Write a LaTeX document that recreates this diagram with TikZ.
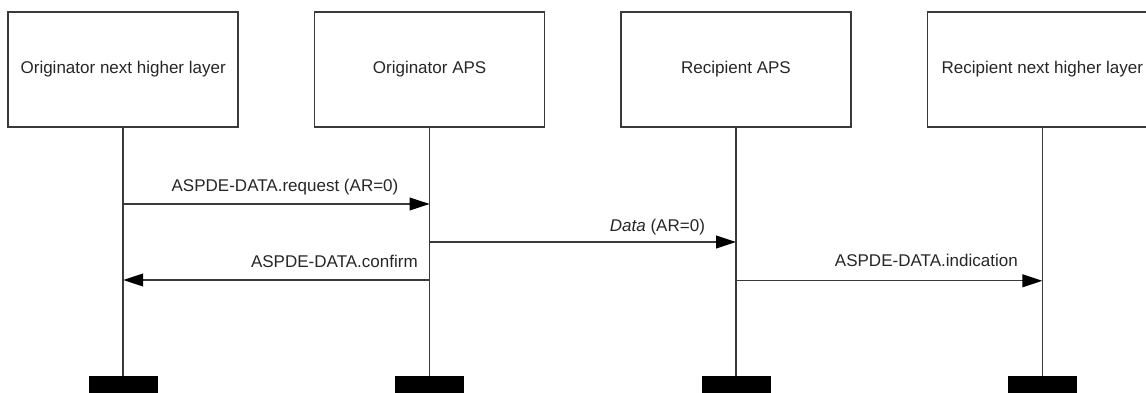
\documentclass[tikz,border=0pt]{standalone}
\usepackage{fontspec}
\setmainfont{Liberation Sans}
\usetikzlibrary{positioning,arrows.meta,calc}
\definecolor{linegray}{HTML}{3A3A3A}
\tikzset{layer/.style={draw=linegray,line width=1pt,rectangle,minimum width=5.75cm,minimum height=2.875cm,text=black!85,font=\fontsize{12.1}{14}\selectfont},
    endbar/.style={fill=black,draw=none,rectangle,minimum width=1.725cm,minimum height=0.6cm,anchor=north},
    msg/.style={-{Triangle[length=0.5cm,width=0.32cm,fill=black,color=black]},draw=linegray,line width=1pt},
    life/.style={draw=linegray,line width=1pt},
    lbl/.style={font=\fontsize{12.1}{14}\selectfont,text=black!85,inner sep=0pt}
}

\begin{document}
\begin{tikzpicture}
	\useasboundingbox (0,0) rectangle (28.65,-9.825);
	\node[layer] (onhl) at (3.08,-1.74) {Originator next higher layer};
	\node[layer] (oaps) at (10.74,-1.74) {Originator APS};
	\node[layer] (raps) at (18.40,-1.74) {Recipient APS};
	\node[layer] (rnhl) at (26.06,-1.74) {Recipient next higher layer};
	\node[endbar] (b1) at (3.08,-9.4) {};
	\node[endbar] (b2) at (10.74,-9.4) {};
	\node[endbar] (b3) at (18.40,-9.4) {};
	\node[endbar] (b4) at (26.06,-9.4) {};
	\draw[life] (onhl) -- (b1);
	\draw[life] (oaps) -- (b2);
	\draw[life] (raps) -- (b3);
	\draw[life] (rnhl) -- (b4);
	\coordinate (req1) at (onhl |- 0,-5.1);
	\coordinate (req2) at (oaps |- 0,-5.1);
	\coordinate (dat1) at (oaps |- 0,-6.05);
	\coordinate (dat2) at (raps |- 0,-6.05);
	\coordinate (con1) at (oaps |- 0,-7.0);
	\coordinate (con2) at (onhl |- 0,-7.0);
	\coordinate (ind1) at (raps |- 0,-7.02);
	\coordinate (ind2) at (rnhl |- 0,-7.02);
	\draw[msg] (req1) -- (req2);
	\draw[msg] (dat1) -- (dat2);
	\draw[msg] (con1) -- (con2);
	\draw[msg] (ind1) -- (ind2);
	\node[lbl,anchor=base] (lreq) at (7.125,-4.8) {ASPDE-DATA.request (AR=0)};
	\node[lbl,anchor=base east] (ldat) at (17.63,-5.78) {\textit{Data} (AR=0)};
	\node[lbl,anchor=base east] (lcon) at (10.45,-6.68) {ASPDE-DATA.confirm};
	\node[lbl,anchor=base east] (lind) at (25.45,-6.66) {ASPDE-DATA.indication};
\end{tikzpicture}
\end{document}
